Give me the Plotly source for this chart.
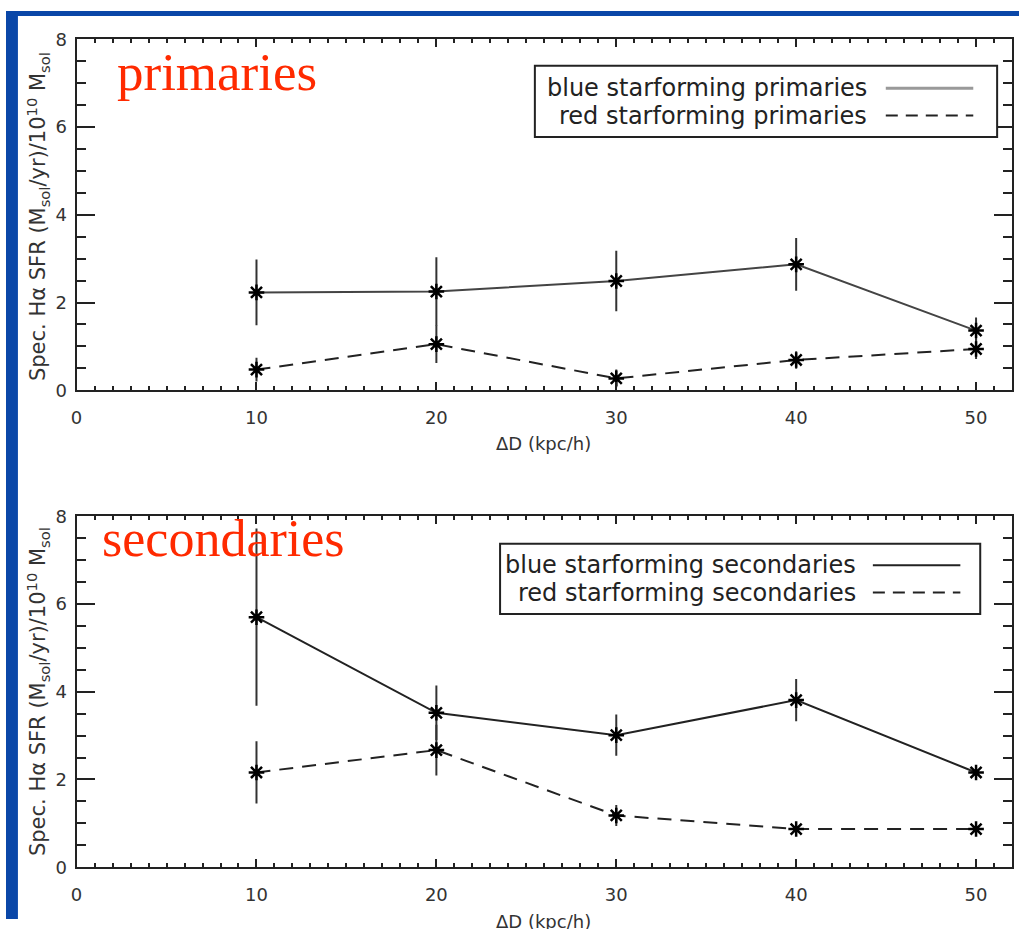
import plotly.graph_objects as go

# ---- data ----
dist = [10, 20, 30, 40, 50]
x_ticks = [0, 10, 20, 30, 40, 50]
y_ticks = [0, 2, 4, 6, 8]

blue_prim = [2.23, 2.25, 2.49, 2.87, 1.36]
blue_prim_err = [0.75, 0.78, 0.69, 0.60, 0.30]
red_prim = [0.47, 1.05, 0.27, 0.69, 0.94]
red_prim_err = [0.27, 0.43, 0.20, 0.20, 0.23]

blue_sec = [5.70, 3.52, 3.01, 3.81, 2.16]
blue_sec_err = [2.02, 0.62, 0.47, 0.48, 0.12]
red_sec = [2.16, 2.67, 1.18, 0.87, 0.87]
red_sec_err = [0.71, 0.58, 0.24, 0.07, 0.08]

W, H = 1019, 929


def px(x):
    return x / W


def py(y):
    return 1 - y / H


INK = "#222222"
TXT = "#333333"
FONT = "DejaVu Sans"
RED = "#ff2a00"
BLUE = "#0a47a8"
DASH = "14px,9px"

fig = go.Figure()


def add_series(y, err, dash, xa, ya, color=INK):
    fig.add_trace(go.Scatter(
        x=dist, y=y, mode="lines+markers", xaxis=xa, yaxis=ya,
        line=dict(color=color, width=2, dash=dash),
        marker=dict(symbol="asterisk-open", size=13, color="black",
                    line=dict(color="black", width=2.5)),
        error_y=dict(type="data", array=err, visible=True, thickness=2,
                     width=0, color="#333333"),
        showlegend=False,
    ))


add_series(blue_prim, blue_prim_err, "solid", "x", "y", color="#444444")
add_series(red_prim, red_prim_err, DASH, "x", "y")
add_series(blue_sec, blue_sec_err, "solid", "x2", "y2")
add_series(red_sec, red_sec_err, DASH, "x2", "y2")

xa_common = dict(
    range=[0, 52], tickvals=x_ticks, ticks="inside", ticklen=8, tickwidth=2,
    tickcolor=INK, showline=True, linewidth=2, linecolor=INK, mirror="ticks",
    minor=dict(dtick=1, ticks="inside", ticklen=4, tickwidth=1.5,
               tickcolor=INK, showgrid=False),
    tickfont=dict(family=FONT, size=18, color=TXT), showgrid=False,
    zeroline=False, ticklabelstandoff=10, domain=[px(71), px(1012)],
)
ya_common = dict(
    range=[0, 8], tickvals=y_ticks, ticks="inside", ticklen=18, tickwidth=2,
    tickcolor=INK, showline=True, linewidth=2, linecolor=INK, mirror="ticks",
    minor=dict(dtick=0.5, ticks="inside", ticklen=9, tickwidth=2,
               tickcolor=INK, showgrid=False),
    tickfont=dict(family=FONT, size=18, color=TXT), showgrid=False,
    zeroline=False, ticklabelstandoff=4,
)

fig.update_layout(
    width=W, height=H, margin=dict(l=0, r=0, t=0, b=0),
    paper_bgcolor="white", plot_bgcolor="white",
    xaxis=dict(**xa_common, anchor="y"),
    yaxis=dict(**ya_common, anchor="x", domain=[py(388), py(29)]),
    xaxis2=dict(**xa_common, anchor="y2"),
    yaxis2=dict(**ya_common, anchor="x2", domain=[py(876), py(517)]),
)

shapes = []
annotations = []

# blue frame
shapes.append(dict(type="rect", xref="paper", yref="paper", x0=0, x1=px(12),
                   y0=0, y1=1, fillcolor=BLUE, line=dict(width=0), layer="above"))
shapes.append(dict(type="rect", xref="paper", yref="paper", x0=0, x1=1,
                   y0=py(5), y1=1, fillcolor=BLUE, line=dict(width=0), layer="above"))

# axis titles
ytitle = "Spec. Hα SFR (M<sub>sol</sub>/yr)/10<sup>10</sup> M<sub>sol</sub>"
for yc in (210, 696):
    annotations.append(dict(text=ytitle, xref="paper", yref="paper",
                            x=px(32), y=py(yc), xanchor="center", yanchor="middle",
                            textangle=-90, showarrow=False,
                            font=dict(family=FONT, size=21, color=TXT)))
for yc in (443, 932):
    annotations.append(dict(text="ΔD (kpc/h)", xref="paper", yref="paper",
                            x=px(541), y=py(yc), xanchor="center", yanchor="middle",
                            showarrow=False,
                            font=dict(family=FONT, size=18, color=TXT)))

# panel labels
annotations.append(dict(text="primaries", xref="paper", yref="paper",
                        x=px(110), y=py(62), xanchor="left", yanchor="middle",
                        showarrow=False,
                        font=dict(family="Liberation Serif", size=53, color=RED)))
annotations.append(dict(text="secondaries", xref="paper", yref="paper",
                        x=px(95), y=py(540), xanchor="left", yanchor="middle",
                        showarrow=False,
                        font=dict(family="Liberation Serif", size=52, color=RED)))


def legend_box(x0, x1, y0, y1, labels, rows, text_right, lx0, lx1, styles):
    shapes.append(dict(type="rect", xref="paper", yref="paper",
                       x0=px(x0), x1=px(x1), y0=py(y1), y1=py(y0),
                       fillcolor="white", line=dict(color=INK, width=2),
                       layer="above"))
    for lab, yr, (col, wid, dsh) in zip(labels, rows, styles):
        annotations.append(dict(text=lab, xref="paper", yref="paper",
                                x=px(text_right), y=py(yr), xanchor="right",
                                yanchor="middle", showarrow=False,
                                font=dict(family=FONT, size=24, color=INK)))
        shapes.append(dict(type="line", xref="paper", yref="paper",
                           x0=px(lx0), x1=px(lx1), y0=py(yr), y1=py(yr),
                           line=dict(color=col, width=wid, dash=dsh),
                           layer="above"))


legend_box(532, 997, 56, 129,
           ["blue starforming primaries", "red starforming primaries"],
           [79, 107], 868, 885, 973,
           [("#999999", 3, "solid"), (INK, 2, "12px,8px")])
legend_box(497, 980, 545, 617,
           ["blue starforming secondaries", "red starforming secondaries"],
           [567, 595], 857, 872, 960,
           [(INK, 2, "solid"), (INK, 2, "12px,8px")])

fig.update_layout(shapes=shapes, annotations=annotations)
fig.write_html("out.html")
